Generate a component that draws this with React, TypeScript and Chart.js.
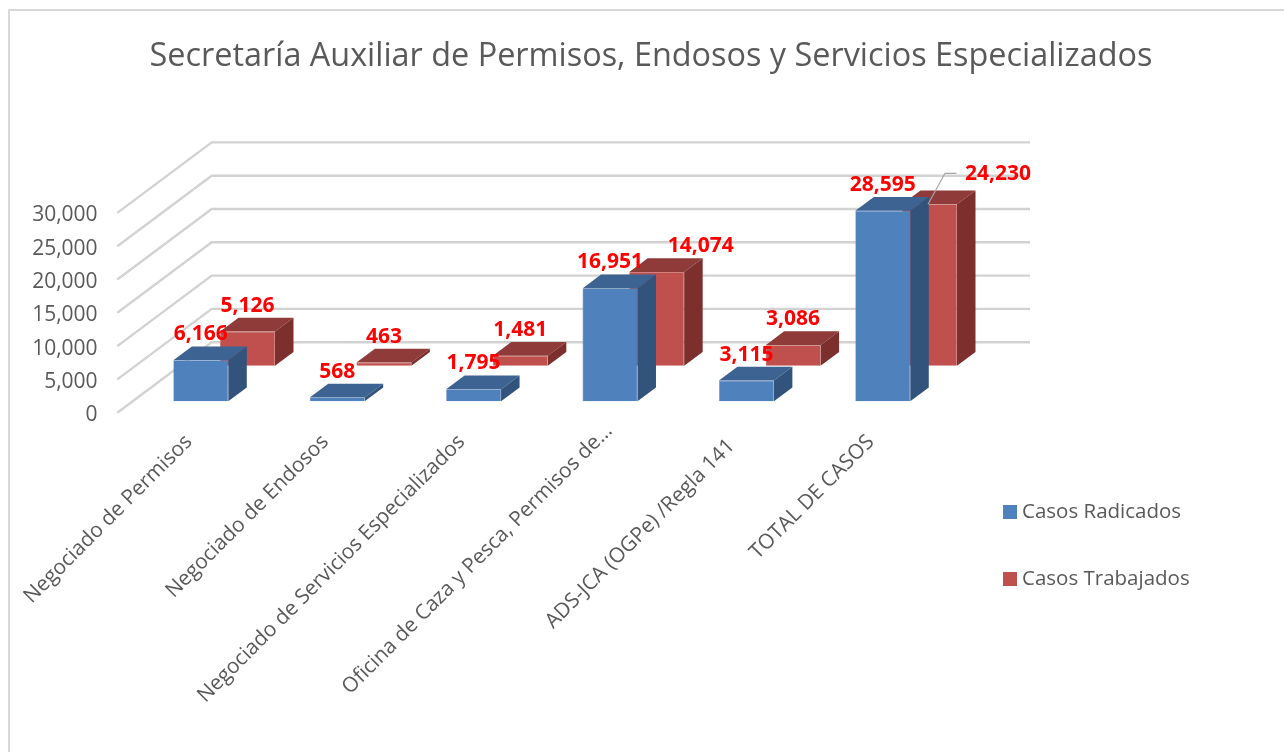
import React, { useEffect, useRef } from "react";
import { Chart, registerables } from "chart.js";

Chart.register(...registerables);

const TITLE = "Secretaría Auxiliar de Permisos, Endosos y Servicios Especializados";
const categories = [
  "Negociado de Permisos",
  "Negociado de Endosos",
  "Negociado de Servicios Especializados",
  "Oficina de Caza y Pesca, Permisos de…",
  "ADS-JCA (OGPe) /Regla 141",
  "TOTAL DE CASOS",
];
const casosRadicados = [6166, 568, 1795, 16951, 3115, 28595];
const casosTrabajados = [5126, 463, 1481, 14074, 3086, 24230];
const yTicks = [0, 5000, 10000, 15000, 20000, 25000, 30000];

const FONT = '"Open Sans", "Noto Sans", sans-serif';
const TEXT = "#595959";
const PLOT = { left: 132.6, right: 951, top: 201.5, bottom: 401.3 };
const DEPTH = { dx: 18.5, dy: 13.8 };
const WALL = { frontX: 117.3, backX: 211.7, right: 1030, frontDy: 11.4, backDy: -59.1 };
const RED_SHIFT_X = 46.7;
const RED_SHIFT_Y = 35.6;
const BAND = (PLOT.right - PLOT.left) / categories.length;
const yRange = 30000;
const yPxPerUnit = (PLOT.bottom - PLOT.top) / yRange;
const redMin = -RED_SHIFT_Y / yPxPerUnit;
const RED_LABEL_NUDGE: Record<number, number[]> = { 3: [44, 0], 5: [68.5, -4] };
const TICK_NUDGE: Record<number, number[]> = { 3: [11, -11], 4: [-3, 4] };

const faces = [
  { front: "#4F81BD", top: "#3C6391", side: "#32547C" },
  { front: "#C0504D", top: "#8E3B39", side: "#7C2F2D" },
];

const quad = (ctx: CanvasRenderingContext2D, pts: number[][], fill: string) => {
  ctx.beginPath();
  pts.forEach((p, i) => (i ? ctx.lineTo(p[0], p[1]) : ctx.moveTo(p[0], p[1])));
  ctx.closePath();
  ctx.fillStyle = fill;
  ctx.fill();
};

const swatch = (color: string) => {
  const c = document.createElement("canvas");
  c.width = 14;
  c.height = 14;
  const g = c.getContext("2d")!;
  g.fillStyle = color;
  g.fillRect(0, 0, 14, 14);
  return c;
};

const LEGEND_PAD = 46.5;

const solidPlugin = {
  id: "solid3d",
  afterLayout(chart: any) {
    const legend = chart.legend;
    if (legend) {
      legend.left = 1008.25 - LEGEND_PAD;
      legend.right = 1284;
      legend.top = 501.75 - LEGEND_PAD;
      legend.bottom = 752;
    }
    const title = chart.titleBlock;
    if (title) {
      title.left = 18;
      title.right = 1284;
    }
  },
  beforeDraw(chart: any) {
    const items = chart.scales.x.getLabelItems();
    Object.keys(TICK_NUDGE).forEach((k) => {
      const i = Number(k);
      const t = items[i].options.translation;
      items[i].options.translation = [t[0] + TICK_NUDGE[i][0], t[1] + TICK_NUDGE[i][1]];
    });
  },
  beforeDatasetsDraw(chart: any) {
    const { ctx } = chart;
    const y = chart.scales.y;
    ctx.save();
    ctx.strokeStyle = "#d2d2d2";
    ctx.lineWidth = 2.4;
    ctx.lineJoin = "round";
    y.ticks.forEach((t: any) => {
      const p = y.getPixelForValue(t.value);
      ctx.beginPath();
      ctx.moveTo(WALL.frontX, p + WALL.frontDy);
      ctx.lineTo(WALL.backX, p + WALL.backDy);
      ctx.lineTo(WALL.right, p + WALL.backDy);
      ctx.stroke();
    });
    ctx.restore();
  },
  beforeDatasetDraw(chart: any, args: any) {
    const { ctx } = chart;
    const c = faces[args.index];
    ctx.save();
    args.meta.data.forEach((bar: any) => {
      const { x, y, base, width } = bar.getProps(["x", "y", "base", "width"], true);
      const l = x - width / 2;
      const r = x + width / 2;
      quad(ctx, [[l, y], [r, y], [r + DEPTH.dx, y - DEPTH.dy], [l + DEPTH.dx, y - DEPTH.dy]], c.top);
      quad(ctx, [[r, y], [r + DEPTH.dx, y - DEPTH.dy], [r + DEPTH.dx, base - DEPTH.dy], [r, base]], c.side);
    });
    ctx.restore();
  },
  afterDatasetsDraw(chart: any) {
    const { ctx } = chart;
    ctx.save();
    ctx.font = `bold 21px ${FONT}`;
    ctx.textAlign = "center";
    ctx.textBaseline = "middle";
    const lastIndex = categories.length - 1;
    const lastRed = chart.getDatasetMeta(1).data[lastIndex];
    ctx.strokeStyle = "#a6a6a6";
    ctx.lineWidth = 1.2;
    ctx.beginPath();
    ctx.moveTo(lastRed.x - 1.5, lastRed.y);
    ctx.lineTo(lastRed.x + 15.5, lastRed.y - 31);
    ctx.lineTo(lastRed.x + 27, lastRed.y - 31);
    ctx.stroke();
    ctx.fillStyle = "#FF0000";
    [1, 0].forEach((ds) => {
      chart.getDatasetMeta(ds).data.forEach((bar: any, i: number) => {
        const value = chart.data.datasets[ds].data[i];
        const n = typeof value === "number" ? value : value.y;
        const nudge = (ds === 1 && RED_LABEL_NUDGE[i]) || [0, 0];
        ctx.fillText(n.toLocaleString("en-US"), bar.x + nudge[0], bar.y - 26 + nudge[1]);
      });
    });
    ctx.restore();
  },
};

export default function App() {
  const ref = useRef<HTMLCanvasElement>(null);
  useEffect(() => {
    const chart = new Chart(ref.current!, {
      type: "bar",
      plugins: [solidPlugin],
      data: {
        labels: categories,
        datasets: [
          {
            label: "Casos Radicados",
            data: casosRadicados,
            backgroundColor: faces[0].front,
            borderColor: "#6E94C4",
            borderWidth: 0.6,
            xAxisID: "x",
            yAxisID: "y",
            order: 0,
            grouped: false,
            clip: false,
            barPercentage: 0.403,
            categoryPercentage: 1,
          },
          {
            label: "Casos Trabajados",
            data: casosTrabajados.map((v, i) => ({ x: i, y: v })),
            backgroundColor: faces[1].front,
            borderColor: "#C96E6B",
            borderWidth: 0.6,
            xAxisID: "xBack",
            yAxisID: "yBack",
            order: 1,
            grouped: false,
            clip: false,
            barPercentage: 0.403,
            categoryPercentage: 1,
          },
        ] as any,
      },
      options: {
        animation: false,
        responsive: false,
        maintainAspectRatio: false,
        layout: { padding: { left: 0, top: 0, bottom: 0, right: 1284 - PLOT.right } },
        scales: {
          x: {
            type: "category",
            position: "bottom",
            grid: { display: false },
            border: { display: false },
            afterFit: (s: any) => {
              s.height = 752 - PLOT.bottom;
            },
            ticks: {
              color: TEXT,
              font: { family: FONT, size: 20.8 },
              minRotation: 45,
              maxRotation: 45,
              autoSkip: false,
              padding: 20.5,
              labelOffset: -12,
            },
          },
          xBack: {
            type: "linear",
            display: false,
            offset: false,
            min: -0.5 - RED_SHIFT_X / BAND,
            max: 5.5 - RED_SHIFT_X / BAND,
          },
          y: {
            min: 0,
            max: yRange,
            position: "left",
            grid: { display: false },
            border: { display: false },
            afterFit: (s: any) => {
              s.width = PLOT.left;
            },
            afterBuildTicks: (s: any) => {
              s.ticks = yTicks.map((value) => ({ value }));
            },
            ticks: {
              color: TEXT,
              font: { family: FONT, size: 21 },
              padding: 27,
              labelOffset: 14,
              callback: (v: any) => Number(v).toLocaleString("en-US"),
            },
          },
          yBack: {
            display: false,
            min: redMin,
            max: redMin + yRange,
          },
        } as any,
        plugins: {
          title: {
            display: true,
            text: TITLE,
            color: TEXT,
            font: { family: FONT, size: 32.4, weight: "normal" },
            padding: { top: 37, bottom: PLOT.top - 37 - 38.9 },
          },
          legend: {
            display: true,
            position: "chartArea",
            align: "start",
            labels: {
              color: TEXT,
              font: { family: FONT, size: 20.5 },
              usePointStyle: true,
              pointStyleWidth: 3.5,
              boxHeight: 14,
              padding: LEGEND_PAD,
              generateLabels: (c: any) =>
                (Chart.defaults as any).plugins.legend.labels
                  .generateLabels(c)
                  .map((item: any, i: number) => ({ ...item, pointStyle: swatch(faces[i].front) })),
            },
          },
          tooltip: { enabled: false },
        } as any,
      },
    });
    return () => chart.destroy();
  }, []);
  return (
    <div style={{ position: "fixed", left: 0, top: 0, width: 1284, height: 752, overflow: "hidden", background: "#fff" }}>
      <canvas ref={ref} width={1284} height={752} style={{ position: "absolute", left: 0, top: 0 }} />
      <div
        style={{
          position: "absolute",
          left: 8,
          top: 9,
          width: 1400,
          height: 760,
          borderLeft: "2px solid #d9d9d9",
          borderTop: "2px solid #d9d9d9",
          pointerEvents: "none",
        }}
      />
    </div>
  );
}
